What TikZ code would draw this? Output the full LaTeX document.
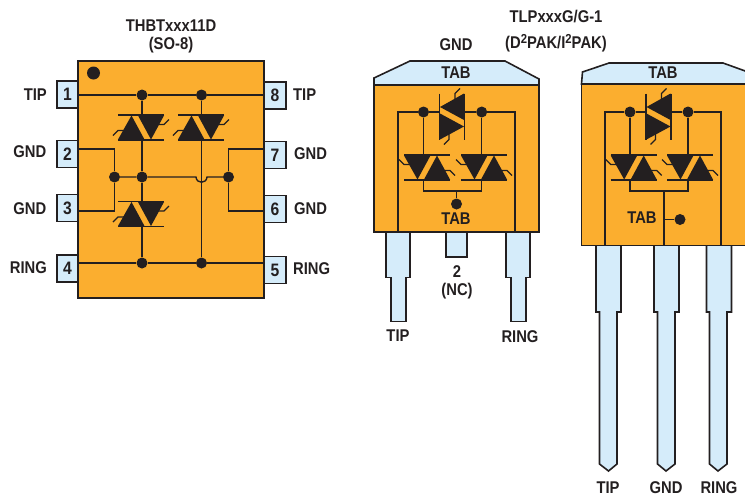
\documentclass[tikz,border=0pt]{standalone}
\usepackage{fontspec}
\setmainfont[FakeStretch=0.87]{Liberation Sans}
\definecolor{bodyor}{HTML}{FBAE2F}
\definecolor{pinbl}{HTML}{D5ECFA}
\definecolor{ink}{HTML}{231F20}
\newcommand{\supr}{\raisebox{4.5pt}{\fontsize{13}{13}\selectfont 2}}
\tikzset{
  x=1pt,y=-1pt,
  pkg/.style={draw=ink,line width=1.6pt,fill=bodyor},
  leadp/.style={draw=ink,line width=1.6pt,fill=pinbl,line join=miter},
  pinbox/.style={draw=ink,line width=1.6pt,fill=pinbl,inner sep=0pt,text=ink,font=\bfseries\fontsize{18}{18}\selectfont},
  wire/.style={draw=ink,line width=1.4pt},
  dot/.style={circle,fill=ink,minimum size=11pt,inner sep=0pt},
  lab/.style={text=ink,inner sep=0pt,font=\bfseries\fontsize{17}{18}\selectfont},
  pics/triac/.style={code={
    \draw[ink,line width=1.3pt] (-23,-12.5)--(23,-12.5) (-23,12.5)--(23,12.5);
    \fill[ink] (-9.5,-12)--(-23,12)--(3.5,12)--cycle;
    \fill[ink] (-3,-12)--(23,-12)--(10,12)--cycle;
    \draw[ink,line width=1.2pt] (-28,8)--(-23,3)--(-17,3) (17,-3)--(23,-3)--(28,-8);
  }}
}
\begin{document}
\begin{tikzpicture}
\useasboundingbox (0,0) rectangle (745,496);
\clip (0,0) rectangle (745,496);
% ---------- SO-8 ----------
\node[pkg,draw,minimum width=186pt,minimum height=237pt,inner sep=0pt] (ic) at (171,179.5) {};
\foreach \n/\yy in {1/94.5,2/154,3/208,4/268.5}
  \node[pinbox,minimum width=21pt,minimum height=27pt] (p\n) at (67.5,\yy) {\n};
\foreach \n/\yy in {8/95.5,7/155,6/209,5/270}
  \node[pinbox,minimum width=22pt,minimum height=27pt] (p\n) at (275,\yy) {\n};
\node[dot,minimum size=13pt] (mark) at (93.5,73) {};
\node[lab] (t1) at (171,26) {THBTxxx11D};
\node[lab] (t2) at (171,45) {(SO-8)};
\node[lab,anchor=east] (l1) at (47,95) {TIP};
\node[lab,anchor=east] (l2) at (46.5,152) {GND};
\node[lab,anchor=east] (l3) at (46.5,209) {GND};
\node[lab,anchor=east] (l4) at (47,268) {RING};
\node[lab,anchor=west] (l8) at (293,95) {TIP};
\node[lab,anchor=west] (l7) at (294,154) {GND};
\node[lab,anchor=west] (l6) at (294,209) {GND};
\node[lab,anchor=west] (l5) at (293,269) {RING};
\node[dot] (a1) at (142,95) {};
\node[dot] (a2) at (201.5,95) {};
\node[dot] (a3) at (114.5,177) {};
\node[dot] (a4) at (142,177) {};
\node[dot] (a5) at (228.5,177) {};
\node[dot] (a6) at (142,263) {};
\node[dot] (a7) at (201.5,263) {};
\coordinate (w2) at (78,149); \coordinate (w3) at (78,211);
\coordinate (w7) at (264,149); \coordinate (w6) at (264,211);
\draw[wire] (78,95) -- (a1) -- (a2) -- (264,95);
\draw[wire] (78,263) -- (a6) -- (a7) -- (264,263);
\draw[wire] (w2) -| (a3) |- (w3);
\draw[wire] (w7) -| (a5) |- (w6);
\draw[wire] (a1) -- (142,115);
\draw[wire] (142,140) -- (a4) -- (142,201.5);
\draw[wire] (142,226.5) -- (a6);
\draw[wire] (a2) -- (201.5,115);
\draw[wire] (201.5,140) -- (a7);
\draw[wire] (a3) -- (a4) -- (196,177) .. controls (196.5,184) and (206.5,184) .. (207,177) -- (a5);
\pic[transform shape] at (141,127.5) {triac};
\pic[transform shape] at (201,127.5) {triac};
\pic[transform shape] at (141,214) {triac};
% ---------- D2PAK ----------
\draw[leadp] (386,232)--(386,277.5)--(391,277.5)--(391,321.5)--(406,321.5)--(406,277.5)--(410,277.5)--(410,232);
\node[pinbox,minimum width=21pt,minimum height=25pt] (tabm) at (456.5,244.5) {};
\draw[leadp] (506,232)--(506,277.5)--(511,277.5)--(511,321.5)--(526,321.5)--(526,277.5)--(530,277.5)--(530,232);
\draw[leadp] (374,85)--(374,78)--(410,61)--(505,61)--(539,79)--(539,85)--cycle;
\draw[pkg] (374,85) rectangle (539,232);
\node[lab] (tb1) at (456,73) {TAB};
\node[lab] (tb2) at (456,219) {TAB};
\node[lab] (g1) at (456,45) {GND};
\node[lab] (t3) at (556,17) {TLPxxxG/G-1};
\node[lab] (t4) at (556,43) {(D\supr PAK/I\supr PAK)};
\node[lab] (n1) at (457,272) {2};
\node[lab] (n2) at (457,291.5) {(NC)};
\node[lab] (l9) at (398,336) {TIP};
\node[lab] (l10) at (520,337) {RING};
\node[dot] (b1) at (423.5,112) {};
\node[dot] (b2) at (481.7,112) {};
\node[dot] (b3) at (456.5,204) {};
\coordinate (b4) at (456.5,191);
\draw[wire,line width=1.6pt] (398,232) |- (b1) -- (439,112);
\draw[wire,line width=1.6pt] (515,232) |- (b2) -- (465,112);
\draw[wire] (b1) -- (423.5,155);
\draw[wire] (b2) -- (481.7,155);
\draw[wire] (423.5,180) |- (b4) -| (481.7,180);
\draw[wire] (b4) -- (b3);
\begin{scope}[shift={(427,167.5)},yscale=-1] \pic[transform shape] {triac}; \end{scope}
\begin{scope}[shift={(484,167.5)},yscale=-1] \pic[transform shape] {triac}; \end{scope}
\begin{scope}[shift={(452,116.5)},cm={0,-1,-1,0,(0,0)}] \pic[transform shape] {triac}; \end{scope}
% ---------- I2PAK ----------
\draw[leadp] (596,245)--(596,312)--(599.5,312)--(599.5,464)--(608.5,471)--(617,464)--(617,312)--(621,312)--(621,245);
\draw[leadp] (654,245)--(654,312)--(657.5,312)--(657.5,464)--(666,471)--(675,464)--(675,312)--(679,312)--(679,245);
\draw[leadp] (706.5,245)--(706.5,312)--(709.5,312)--(709.5,464)--(718,471)--(727,464)--(727,312)--(731.5,312)--(731.5,245);
\draw[leadp] (581.5,84)--(582.5,72)--(609,63)--(723,63)--(748,72)--(748,84)--cycle;
\draw[pkg] (581.5,84) rectangle (750,245.5);
\node[lab] (tb3) at (663,73) {TAB};
\node[lab] (tb4) at (642,218) {TAB};
\node[lab] (l11) at (608,488) {TIP};
\node[lab] (l12) at (666,488) {GND};
\node[lab] (l13) at (719,488) {RING};
\node[dot] (c1) at (630,112) {};
\node[dot] (c2) at (688,112) {};
\node[dot] (c3) at (680,219.5) {};
\coordinate (c4) at (664,191);
\coordinate (c5) at (664,219.5);
\draw[wire,line width=1.6pt] (604.7,245) |- (c1) -- (646,112);
\draw[wire,line width=1.6pt] (720.7,245) |- (c2) -- (671,112);
\draw[wire] (c1) -- (630,155);
\draw[wire] (c2) -- (688,155);
\draw[wire] (630,180) |- (c4) -| (688,180);
\draw[wire,line width=1.6pt] (c4) -- (664,245);
\draw[wire] (c5) -- (c3);
\begin{scope}[shift={(633.7,167.5)},yscale=-1] \pic[transform shape] {triac}; \end{scope}
\begin{scope}[shift={(690,167.5)},yscale=-1] \pic[transform shape] {triac}; \end{scope}
\begin{scope}[shift={(658.5,116.5)},cm={0,-1,-1,0,(0,0)}] \pic[transform shape] {triac}; \end{scope}
\end{tikzpicture}
\end{document}
